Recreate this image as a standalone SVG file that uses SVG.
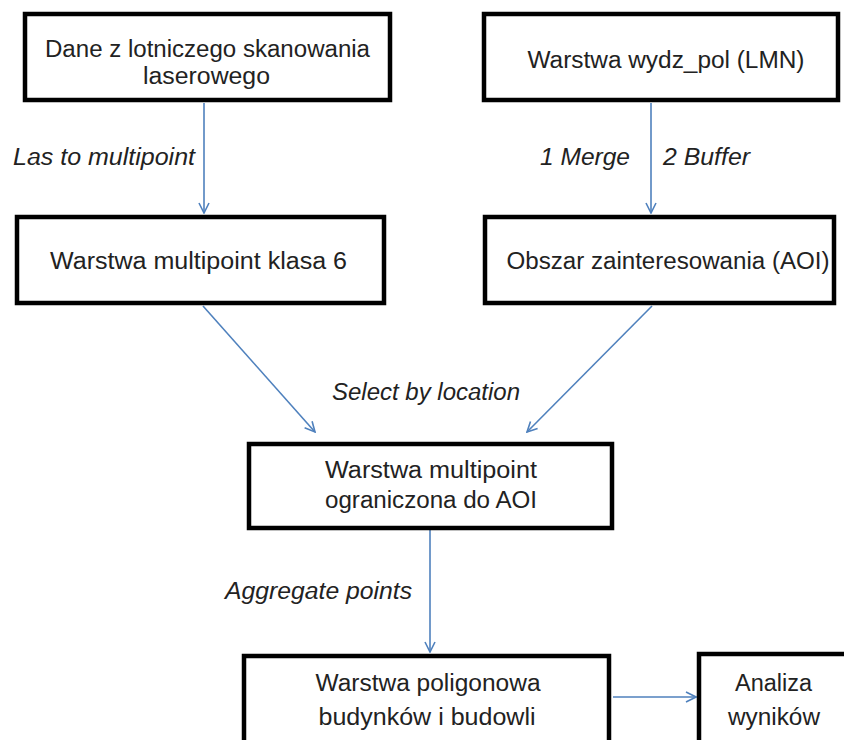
<svg xmlns="http://www.w3.org/2000/svg" width="844" height="740" viewBox="0 0 844 740">
<defs>
<style>
.box{fill:#fff;stroke:#000;stroke-width:4.5}
.t{font-family:"Liberation Sans",Arial,sans-serif;font-size:23px;fill:#222;text-anchor:middle}
.lbl{font-family:"Liberation Sans",Arial,sans-serif;font-size:23px;font-style:italic;fill:#222}
.c{fill:none;stroke:#4F81BD;stroke-width:1.6}
</style>
<marker id="arr" viewBox="0 0 12 12" refX="11" refY="6" markerWidth="12" markerHeight="12" markerUnits="userSpaceOnUse" orient="auto">
<path d="M1,1 L11,6 L1,11" fill="none" stroke="#4F81BD" stroke-width="1.6"/>
</marker>
</defs>
<rect width="844" height="740" fill="#fff"/>
<g id="connectors">
<line class="c" x1="204" y1="103" x2="204" y2="213" marker-end="url(#arr)"/>
<line class="c" x1="651" y1="103" x2="651" y2="213" marker-end="url(#arr)"/>
<line class="c" x1="203" y1="306" x2="315" y2="432" marker-end="url(#arr)"/>
<line class="c" x1="652" y1="306" x2="527" y2="432" marker-end="url(#arr)"/>
<line class="c" x1="430" y1="530" x2="430" y2="652" marker-end="url(#arr)"/>
<line class="c" x1="613" y1="697" x2="696" y2="697" marker-end="url(#arr)"/>
</g>
<g id="labels">
<text class="lbl" x="13" y="165" textLength="182" lengthAdjust="spacingAndGlyphs">Las to multipoint</text>
<text class="lbl" x="540" y="165" textLength="90" lengthAdjust="spacingAndGlyphs">1 Merge</text>
<text class="lbl" x="663" y="165" textLength="87" lengthAdjust="spacingAndGlyphs">2 Buffer</text>
<text class="lbl" x="332" y="400" textLength="188" lengthAdjust="spacingAndGlyphs">Select by location</text>
<text class="lbl" x="225" y="599" textLength="187" lengthAdjust="spacingAndGlyphs">Aggregate points</text>
</g>
<g id="n1">
<rect class="box" x="25" y="14" width="365" height="86"/>
<text class="t" x="207.5" y="57" textLength="325" lengthAdjust="spacingAndGlyphs">Dane z lotniczego skanowania</text>
<text class="t" x="206.5" y="84" textLength="127" lengthAdjust="spacingAndGlyphs">laserowego</text>
</g>
<g id="n2">
<rect class="box" x="484" y="14" width="354" height="86"/>
<text class="t" x="666" y="68" textLength="277" lengthAdjust="spacingAndGlyphs">Warstwa wydz_pol (LMN)</text>
</g>
<g id="n3">
<rect class="box" x="17" y="217" width="367" height="86"/>
<text class="t" x="198.5" y="269" textLength="297" lengthAdjust="spacingAndGlyphs">Warstwa multipoint klasa 6</text>
</g>
<g id="n4">
<rect class="box" x="485" y="217" width="349" height="86"/>
<text class="t" x="668" y="269" textLength="323" lengthAdjust="spacingAndGlyphs">Obszar zainteresowania (AOI)</text>
</g>
<g id="n5">
<rect class="box" x="249" y="444" width="363" height="84"/>
<text class="t" x="431" y="478" textLength="212" lengthAdjust="spacingAndGlyphs">Warstwa multipoint</text>
<text class="t" x="431" y="508" textLength="212" lengthAdjust="spacingAndGlyphs">ograniczona do AOI</text>
</g>
<g id="n6">
<rect class="box" x="244" y="656" width="365" height="100"/>
<text class="t" x="428" y="691" textLength="225" lengthAdjust="spacingAndGlyphs">Warstwa  poligonowa</text>
<text class="t" x="427" y="725" textLength="217" lengthAdjust="spacingAndGlyphs">budynków  i budowli</text>
</g>
<g id="n7">
<rect class="box" x="699" y="654" width="160" height="100"/>
<text class="t" x="773.5" y="691" textLength="77" lengthAdjust="spacingAndGlyphs">Analiza</text>
<text class="t" x="774" y="725" textLength="92" lengthAdjust="spacingAndGlyphs">wyników</text>
</g>
</svg>
